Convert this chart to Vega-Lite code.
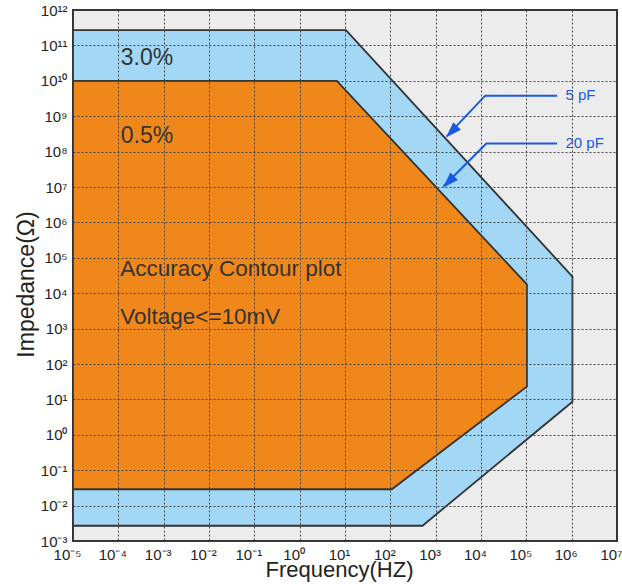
{
  "$schema": "https://vega.github.io/schema/vega-lite/v6.json",
  "width": 544,
  "height": 531,
  "autosize": "none",
  "padding": {"left": 73, "top": 10, "right": 5, "bottom": 43},
  "background": "white",
  "config": {
    "view": {"fill": "#ececec", "stroke": "#333333", "strokeWidth": 2},
    "font": "Liberation Sans, Arial, sans-serif"
  },
  "datasets": {
    "poly": [
      {"region": "3.0%", "ord": 1, "f": 1e-5, "z": 2.7e11},
      {"region": "3.0%", "ord": 2, "f": 10.5, "z": 2.7e11},
      {"region": "3.0%", "ord": 3, "f": 1.04e6, "z": 2.95e4},
      {"region": "3.0%", "ord": 4, "f": 1.04e6, "z": 8.6},
      {"region": "3.0%", "ord": 5, "f": 513, "z": 0.0027},
      {"region": "3.0%", "ord": 6, "f": 1e-5, "z": 0.0027},
      {"region": "3.0%", "ord": 7, "f": 1e-5, "z": 2.7e11},
      {"region": "0.5%", "ord": 1, "f": 1e-5, "z": 1e10},
      {"region": "0.5%", "ord": 2, "f": 6.6, "z": 1e10},
      {"region": "0.5%", "ord": 3, "f": 1.03e5, "z": 1.78e4},
      {"region": "0.5%", "ord": 4, "f": 1.03e5, "z": 23},
      {"region": "0.5%", "ord": 5, "f": 108, "z": 0.029},
      {"region": "0.5%", "ord": 6, "f": 1e-5, "z": 0.029},
      {"region": "0.5%", "ord": 7, "f": 1e-5, "z": 1e10}
    ],
    "arrows": [
      {"a": "5 pF", "ord": 1, "f": 4.77e5, "z": 3.8e9},
      {"a": "5 pF", "ord": 2, "f": 1.24e4, "z": 3.8e9},
      {"a": "5 pF", "ord": 3, "f": 1.75e3, "z": 2.7e8},
      {"a": "20 pF", "ord": 1, "f": 4.77e5, "z": 1.7e8},
      {"a": "20 pF", "ord": 2, "f": 1.31e4, "z": 1.7e8},
      {"a": "20 pF", "ord": 3, "f": 1.5e3, "z": 1.05e7}
    ],
    "heads": [
      {"a": "5 pF", "f": 1.69e3, "z": 2.5e8},
      {"a": "20 pF", "f": 1.45e3, "z": 9.5e6}
    ],
    "labels": [
      {"grp": "pct", "t": "3.0%", "f": 1.13e-4, "z": 4.4e10},
      {"grp": "pct", "t": "0.5%", "f": 1.13e-4, "z": 2.75e8},
      {"grp": "note", "t": "Accuracy Contour plot", "f": 1.1e-4, "z": 4.7e4},
      {"grp": "note", "t": "Voltage<=10mV", "f": 1.1e-4, "z": 2.17e3},
      {"grp": "cap", "t": "5 pF", "f": 7.3e5, "z": 4.0e9},
      {"grp": "cap", "t": "20 pF", "f": 7.3e5, "z": 1.8e8}
    ]
  },
  "layer": [
    {
      "data": {"name": "poly"},
      "transform": [{"filter": "datum.region == '3.0%'"}],
      "mark": {"type": "line", "fill": "#a2d8f5", "stroke": "#333333", "strokeWidth": 1.8, "strokeJoin": "miter", "clip": true},
      "encoding": {
        "x": {
          "field": "f", "type": "quantitative",
          "scale": {"type": "log", "domain": [1e-5, 1e7], "nice": false},
          "axis": {
            "values": [1e-5, 1e-4, 1e-3, 1e-2, 1e-1, 1, 10, 100, 1000, 10000, 100000, 1000000, 10000000],
            "labelExpr": "'10' + ['⁻⁵','⁻⁴','⁻³','⁻²','⁻¹','⁰','¹','²','³','⁴','⁵','⁶','⁷'][round(log(datum.value)/LN10)+5]",
            "grid": true, "gridDash": [2, 2], "gridColor": "#444444", "gridWidth": 1, "gridOpacity": 1,
            "ticks": false, "domain": false,
            "labelFontSize": 15, "labelColor": "#222222", "labelPadding": 6, "labelOffset": -6,
            "labelFlush": false, "labelOverlap": false, "labelBaseline": "top",
            "title": "Frequency(HZ)", "titleFontSize": 22, "titleFontWeight": "normal", "titleColor": "#222222",
            "titleX": 266, "titleY": 35, "titleBaseline": "alphabetic", "titleAlign": "center",
            "zindex": 1
          }
        },
        "y": {
          "field": "z", "type": "quantitative",
          "scale": {"type": "log", "domain": [1e-3, 1e12], "nice": false},
          "axis": {
            "values": [1e-3, 1e-2, 1e-1, 1, 10, 100, 1000, 10000, 100000, 1000000, 10000000, 100000000, 1000000000, 10000000000, 100000000000, 1000000000000],
            "labelExpr": "'10' + ['⁻³','⁻²','⁻¹','⁰','¹','²','³','⁴','⁵','⁶','⁷','⁸','⁹','¹⁰','¹¹','¹²'][round(log(datum.value)/LN10)+3]",
            "grid": true, "gridDash": [2, 2], "gridColor": "#444444", "gridWidth": 1, "gridOpacity": 1,
            "ticks": false, "domain": false,
            "labelFontSize": 15, "labelColor": "#222222", "labelPadding": 6,
            "labelFlush": false, "labelOverlap": false,
            "title": "Impedance(Ω)", "titleFontSize": 23, "titleFontWeight": "normal", "titleColor": "#222222",
            "titleX": -40, "titleY": 274, "titleBaseline": "alphabetic", "titleAlign": "center", "titleAngle": 270,
            "zindex": 1
          }
        },
        "order": {"field": "ord", "type": "quantitative"}
      }
    },
    {
      "data": {"name": "poly"},
      "transform": [{"filter": "datum.region == '0.5%'"}],
      "mark": {"type": "line", "fill": "#f0871b", "stroke": "#333333", "strokeWidth": 1.8, "strokeJoin": "miter", "clip": true},
      "encoding": {
        "x": {"field": "f", "type": "quantitative"},
        "y": {"field": "z", "type": "quantitative"},
        "order": {"field": "ord", "type": "quantitative"}
      }
    },
    {
      "data": {"name": "arrows"},
      "mark": {"type": "line", "stroke": "#1a5ae0", "strokeWidth": 2},
      "encoding": {
        "x": {"field": "f", "type": "quantitative"},
        "y": {"field": "z", "type": "quantitative"},
        "detail": {"field": "a"},
        "order": {"field": "ord", "type": "quantitative"}
      }
    },
    {
      "data": {"name": "heads"},
      "mark": {"type": "point", "shape": "M0,0L-0.33,1L0.33,1Z", "size": 1024, "filled": true, "color": "#1a5ae0", "opacity": 1, "angle": 224, "strokeWidth": 0},
      "encoding": {
        "x": {"field": "f", "type": "quantitative"},
        "y": {"field": "z", "type": "quantitative"}
      }
    },
    {
      "data": {"name": "labels"},
      "transform": [{"filter": "datum.grp == 'pct'"}],
      "mark": {"type": "text", "align": "left", "baseline": "middle", "fontSize": 23, "color": "#333333"},
      "encoding": {
        "x": {"field": "f", "type": "quantitative"},
        "y": {"field": "z", "type": "quantitative"},
        "text": {"field": "t"}
      }
    },
    {
      "data": {"name": "labels"},
      "transform": [{"filter": "datum.grp == 'note'"}],
      "mark": {"type": "text", "align": "left", "baseline": "middle", "fontSize": 22.5, "color": "#333333"},
      "encoding": {
        "x": {"field": "f", "type": "quantitative"},
        "y": {"field": "z", "type": "quantitative"},
        "text": {"field": "t"}
      }
    },
    {
      "data": {"name": "labels"},
      "transform": [{"filter": "datum.grp == 'cap'"}],
      "mark": {"type": "text", "align": "left", "baseline": "middle", "fontSize": 15, "color": "#1a5ae0"},
      "encoding": {
        "x": {"field": "f", "type": "quantitative"},
        "y": {"field": "z", "type": "quantitative"},
        "text": {"field": "t"}
      }
    }
  ]
}
